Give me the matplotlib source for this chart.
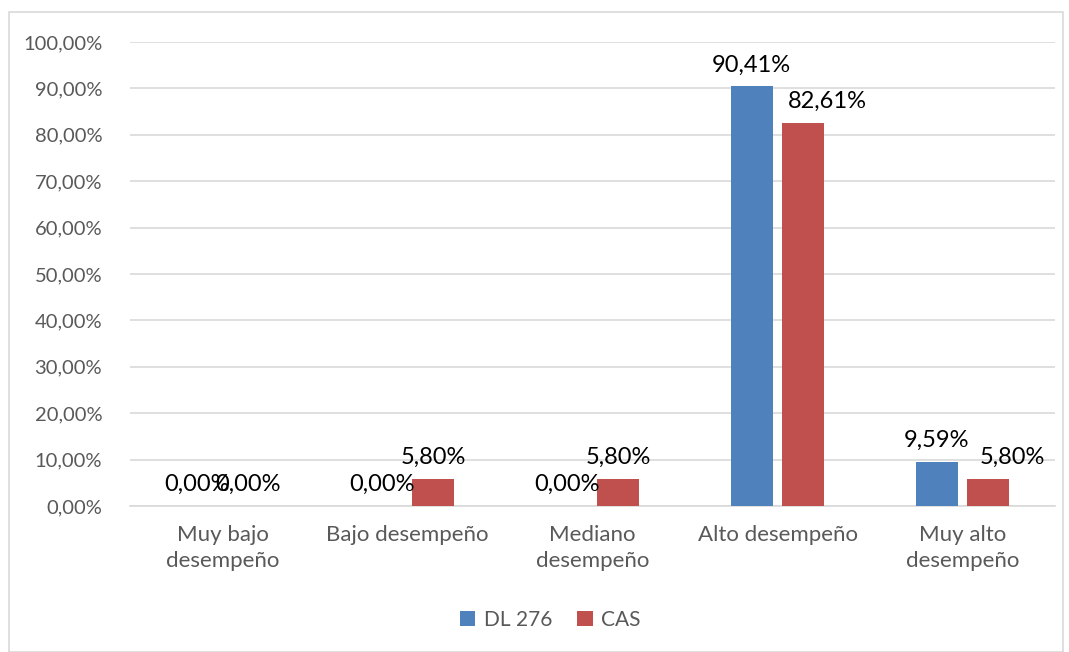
import matplotlib.pyplot as plt
import numpy as np
from matplotlib.patches import Rectangle

categories = ["Muy bajo\ndesempeño", "Bajo desempeño", "Mediano\ndesempeño",
              "Alto desempeño", "Muy alto\ndesempeño"]
series_names = ["DL 276", "CAS"]
dl276 = [0.00, 0.00, 0.00, 90.41, 9.59]
cas = [0.00, 5.80, 5.80, 82.61, 5.80]
colors = ["#4F81BD", "#C0504D"]

# horizontal nudge (pixels) of the data labels, as placed in the original
label_shift = [[0, 0, 0, 0, 0], [0, 0, 0, 24, 24]]

plt.rcParams["font.family"] = ["Lato", "DejaVu Sans"]


def pct(v: float) -> str:
    return f"{v:.2f}".replace(".", ",") + "%"


fig = plt.figure(figsize=(10.69, 6.52), dpi=100)
fig.patches.append(Rectangle((9 / 1069, 0 / 652), 1054 / 1069, 640 / 652,
                             transform=fig.transFigure, fill=False,
                             edgecolor="#D9D9D9", linewidth=1.2))
ax = fig.add_axes([130 / 1069, 1 - 506 / 652, 925 / 1069, 464 / 652])

x = np.arange(len(categories))
width = 0.227
offset = 0.14
for vals, name, color, sign, shifts in zip([dl276, cas], series_names, colors,
                                           [-1, 1], label_shift):
    bars = ax.bar(x + sign * offset, vals, width, color=color, label=name, zorder=3)
    for b, v, dx in zip(bars, vals, shifts):
        ax.annotate(pct(v), (b.get_x() + b.get_width() / 2, v),
                    xytext=(dx * 0.72, 8), textcoords="offset points",
                    ha="center", va="bottom", fontsize=17, color="black", zorder=4)

ax.set_xlim(-0.5, len(categories) - 0.5)
ax.set_ylim(0, 100)
ax.set_yticks(np.arange(0, 101, 10))
ax.set_yticklabels([pct(v) for v in np.arange(0, 101, 10)])
ax.set_xticks(x)
ax.set_xticklabels(categories, linespacing=1.35)
ax.tick_params(axis="both", length=0, labelcolor="#595959")
ax.tick_params(axis="y", labelsize=14.5, pad=20)
ax.tick_params(axis="x", labelsize=16, pad=14)
ax.grid(axis="y", color="#D9D9D9", linewidth=1.2, zorder=0)
for side in ["top", "right", "left"]:
    ax.spines[side].set_visible(False)
ax.spines["bottom"].set_color("#D9D9D9")
ax.spines["bottom"].set_linewidth(1.2)

leg = fig.legend(loc="center", bbox_to_anchor=(550 / 1069, 1 - 620 / 652), ncol=2,
                 frameon=False, fontsize=15, handlelength=0.75, handleheight=0.75,
                 handletextpad=0.4, columnspacing=1.2)
for t in leg.get_texts():
    t.set_color("#595959")

fig.savefig("out.png", dpi=100)
